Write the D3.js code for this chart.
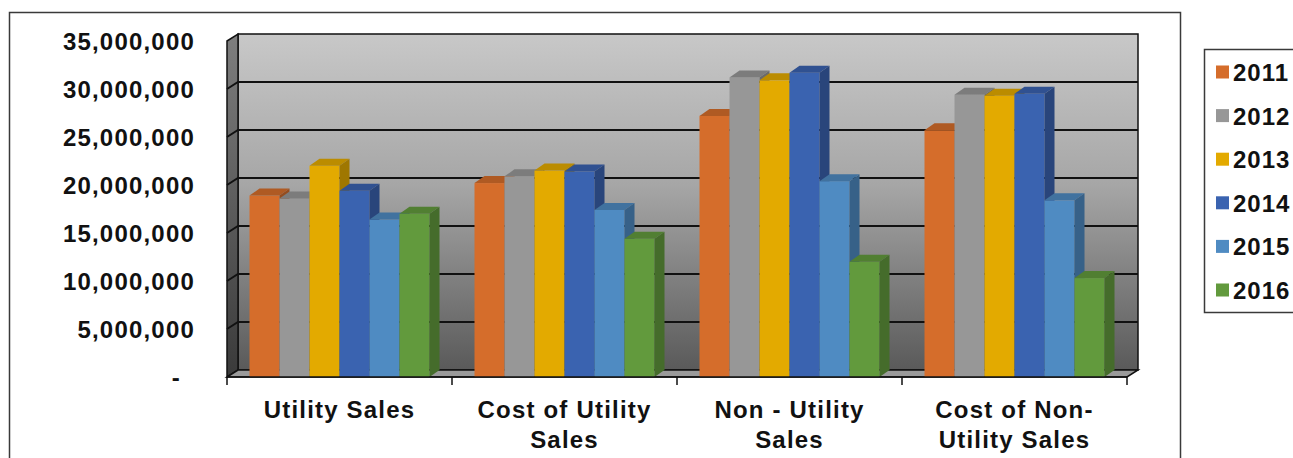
<!DOCTYPE html>
<html>
<head>
<meta charset="utf-8">
<script src="https://cdn.jsdelivr.net/npm/d3@7"></script>
<style>
  body { margin: 0; background: #fff; }
  svg { display: block; font-family: "Liberation Sans", Arial, sans-serif; font-weight: bold; }
</style>
</head>
<body>
<div id="chart"></div>
<script>
// data
const categories = ["Utility Sales", "Cost of Utility Sales", "Non - Utility Sales", "Cost of Non-Utility Sales"];
const categoryLines = [["Utility Sales"], ["Cost of Utility", "Sales"], ["Non - Utility", "Sales"], ["Cost of Non-", "Utility Sales"]];
const years = ["2011", "2012", "2013", "2014", "2015", "2016"];
const colors = ["#d56d2b", "#979797", "#e3aa00", "#3a63b0", "#4f8bc2", "#629a3d"];
const v2011 = [18.9e6, 20.2e6, 27.2e6, 25.7e6];
const v2012 = [18.6e6, 20.9e6, 31.2e6, 29.4e6];
const v2013 = [22.0e6, 21.5e6, 30.9e6, 29.3e6];
const v2014 = [19.4e6, 21.4e6, 31.7e6, 29.5e6];
const v2015 = [16.4e6, 17.4e6, 20.4e6, 18.4e6];
const v2016 = [17.0e6, 14.4e6, 12.0e6, 10.3e6];
const series = [v2011, v2012, v2013, v2014, v2015, v2016];
const yTicks = [0, 5e6, 10e6, 15e6, 20e6, 25e6, 30e6, 35e6];

const W = 1293, H = 458;
const dx = 11, dy = 7;      // wall depth
const bdx = 10, bdy = 7;    // bar depth

const svg = d3.select("#chart").append("svg")
    .attr("width", W).attr("height", H);

const defs = svg.append("defs");
const g1 = defs.append("linearGradient").attr("id", "wall")
    .attr("x1", 0).attr("y1", 0).attr("x2", 0).attr("y2", 1);
g1.append("stop").attr("offset", "0%").attr("stop-color", "#c8c8c8");
g1.append("stop").attr("offset", "45%").attr("stop-color", "#a6a6a6");
g1.append("stop").attr("offset", "100%").attr("stop-color", "#5a5a5a");
const g2 = defs.append("linearGradient").attr("id", "side")
    .attr("x1", 0).attr("y1", 0).attr("x2", 0).attr("y2", 1);
g2.append("stop").attr("offset", "0%").attr("stop-color", "#7e7e7e");
g2.append("stop").attr("offset", "100%").attr("stop-color", "#3a3a3a");

// outer frame
svg.append("rect")
    .attr("x", 9.5).attr("y", 12.5).attr("width", 1171).attr("height", 460)
    .attr("fill", "none").attr("stroke", "#3a3a3a").attr("stroke-width", 1.5);

const x = d3.scaleBand().domain(categories).range([227, 1127]);
const xs = d3.scaleBand().domain(years).range([0, x.bandwidth()]).paddingOuter(0.75);
const y = d3.scaleLinear().domain([0, 35e6]).range([377, 41]);

const x0 = x.range()[0], x1 = x.range()[1];
const yTop = y(35e6), yBot = y(0);

// back wall
svg.append("rect")
    .attr("x", x0 + dx).attr("y", yTop - dy)
    .attr("width", x1 - x0).attr("height", yBot - yTop)
    .attr("fill", "url(#wall)").attr("stroke", "#111").attr("stroke-width", 1.5);

// side wall
svg.append("path")
    .attr("d", `M${x0},${yTop} L${x0 + dx},${yTop - dy} L${x0 + dx},${yBot - dy} L${x0},${yBot} Z`)
    .attr("fill", "url(#side)").attr("stroke", "#111").attr("stroke-width", 1.5);

// floor
svg.append("path")
    .attr("d", `M${x0},${yBot} L${x1},${yBot} L${x1 + dx},${yBot - dy} L${x0 + dx},${yBot - dy} Z`)
    .attr("fill", "#9a9a9a").attr("stroke", "#111").attr("stroke-width", 1.5);

// gridlines
const grid = svg.append("g");
yTicks.filter(d => d > 0 && d < 35e6).forEach(t => {
    const yy = y(t);
    grid.append("path")
        .attr("d", `M${x0},${yy} L${x0 + dx},${yy - dy} L${x1 + dx},${yy - dy}`)
        .attr("fill", "none").attr("stroke", "#111").attr("stroke-width", 2);
});

// y labels
svg.append("g").selectAll("text")
    .data(yTicks)
    .join("text")
    .attr("x", d => d === 0 ? 181 : 195)
    .attr("y", d => y(d) + 9)
    .attr("text-anchor", "end")
    .attr("font-size", 24)
    .attr("letter-spacing", 1.2)
    .attr("fill", "#111")
    .text(d => d === 0 ? "-" : d3.format(",")(d));

// bars
const bars = svg.append("g");
categories.forEach((c, ci) => {
    years.forEach((yr, si) => {
        const v = series[si][ci];
        const bx = x(c) + xs(yr);
        const bw = xs.bandwidth();
        const by = y(v);
        const col = d3.color(colors[si]);
        const g = bars.append("g");
        g.append("rect")
            .attr("x", bx).attr("y", by).attr("width", bw).attr("height", yBot - by)
            .attr("fill", col);
        g.append("path")
            .attr("d", `M${bx},${by} L${bx + bdx},${by - bdy} L${bx + bw + bdx},${by - bdy} L${bx + bw},${by} Z`)
            .attr("fill", col.darker(0.55));
        g.append("path")
            .attr("d", `M${bx + bw},${by} L${bx + bw + bdx},${by - bdy} L${bx + bw + bdx},${yBot - bdy} L${bx + bw},${yBot} Z`)
            .attr("fill", col.darker(1.0));
    });
});

// front axis with ticks
const ax = svg.append("g");
ax.append("line")
    .attr("x1", x0).attr("x2", x1).attr("y1", yBot).attr("y2", yBot)
    .attr("stroke", "#111").attr("stroke-width", 1.5);
d3.range(categories.length + 1).forEach(i => {
    const tx = x0 + i * x.bandwidth();
    ax.append("line")
        .attr("x1", tx).attr("x2", tx).attr("y1", yBot).attr("y2", yBot + 8)
        .attr("stroke", "#111").attr("stroke-width", 1.5);
});

// category labels
categories.forEach((c, ci) => {
    const t = svg.append("text")
        .attr("text-anchor", "middle")
        .attr("font-size", 24)
        .attr("letter-spacing", 1.2)
        .attr("fill", "#111");
    categoryLines[ci].forEach((ln, li) => {
        t.append("tspan")
            .attr("x", x(c) + x.bandwidth() / 2)
            .attr("y", 418 + li * 30)
            .text(ln);
    });
});

// legend
const lg = svg.append("g");
lg.append("rect")
    .attr("x", 1204.5).attr("y", 49.5).attr("width", 120).attr("height", 263)
    .attr("fill", "#fff").attr("stroke", "#3a3a3a").attr("stroke-width", 1.5);
years.forEach((yr, i) => {
    const cy = 72 + i * 43.6;
    lg.append("rect")
        .attr("x", 1216).attr("y", cy - 6.5).attr("width", 13).attr("height", 13)
        .attr("fill", colors[i]);
    lg.append("text")
        .attr("x", 1233).attr("y", cy + 9)
        .attr("font-size", 24)
        .attr("letter-spacing", 1)
        .attr("fill", "#111")
        .text(yr);
});
</script>
</body>
</html>
